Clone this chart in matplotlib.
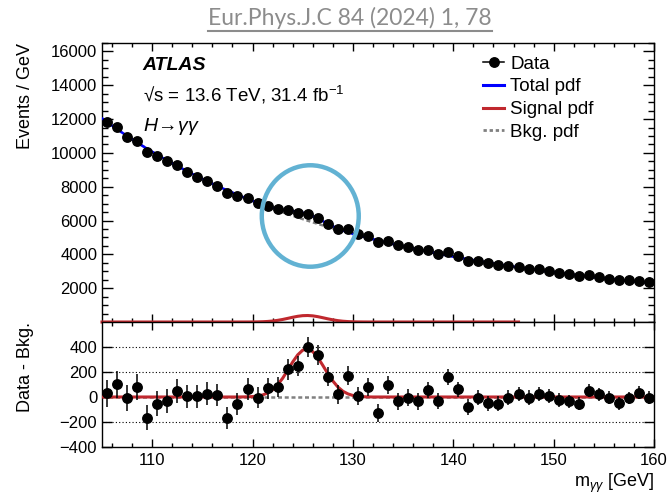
import matplotlib

matplotlib.use("Agg")
import matplotlib.pyplot as plt
import numpy as np
from matplotlib.lines import Line2D
from matplotlib.patches import Ellipse
from matplotlib.ticker import MultipleLocator

plt.rcParams["font.family"] = ["Liberation Sans", "DejaVu Sans"]
plt.rcParams["mathtext.fontset"] = "custom"
plt.rcParams["mathtext.rm"] = "Liberation Sans"
plt.rcParams["mathtext.it"] = "Liberation Sans:italic"

# Data: 1 GeV bins from 105 to 160 GeV
bin_centers = np.arange(105.5, 160.0, 1.0)
data_events = [
    11850, 11520, 10970, 10710, 10080, 9820, 9530, 9290, 8900, 8600,
    8340, 8050, 7610, 7450, 7360, 7060, 6880, 6680, 6600, 6470,
    6410, 6150, 5820, 5480, 5480, 5200, 5070, 4735, 4800, 4540,
    4420, 4280, 4260, 4050, 4120, 3905, 3630, 3630, 3470, 3370,
    3330, 3270, 3140, 3120, 3000, 2880, 2820, 2700, 2760, 2640,
    2560, 2470, 2470, 2430, 2350,
]
data_minus_bkg = [
    30, 100, -5, 80, -165, -55, -35, 45, 5, 5,
    25, 15, -165, -55, 65, -5, 70, 80, 220, 250,
    400, 335, 160, 20, 170, 10, 80, -130, 95, -35,
    -5, -35, 55, -30, 160, 60, -80, -5, -50, -55,
    -5, 25, -5, 25, 5, -25, -35, -55, 50, 20,
    -5, -50, -10, 35, -5,
]
data_err = [
    108, 106, 104, 103, 101, 99, 97, 96, 94, 93,
    91, 90, 88, 87, 86, 85, 83, 82, 81, 80,
    79, 78, 76, 75, 74, 73, 72, 71, 70, 69,
    68, 67, 66, 65, 64, 63, 62, 61, 60, 60,
    59, 58, 57, 56, 56, 55, 54, 53, 53, 52,
    51, 51, 50, 49, 49,
]

pdf_mass = np.arange(105.0, 160.01, 0.5)
bkg_pdf = [
    12043, 11826, 11614, 11406, 11203, 11004, 10809, 10618, 10431, 10248,
    10069, 9893, 9721, 9553, 9388, 9226, 9068, 8913, 8761, 8612,
    8466, 8323, 8183, 8045, 7911, 7779, 7650, 7523, 7399, 7277,
    7158, 7040, 6926, 6814, 6704, 6596, 6490, 6386, 6284, 6184,
    6086, 5990, 5896, 5803, 5713, 5624, 5537, 5451, 5367, 5285,
    5204, 5125, 5047, 4970, 4896, 4822, 4750, 4679, 4610, 4541,
    4474, 4409, 4344, 4281, 4219, 4158, 4098, 4039, 3981, 3925,
    3869, 3814, 3761, 3708, 3656, 3605, 3555, 3506, 3458, 3411,
    3364, 3318, 3273, 3229, 3186, 3143, 3102, 3061, 3020, 2980,
    2941, 2903, 2865, 2828, 2792, 2756, 2721, 2686, 2653, 2619,
    2586, 2554, 2522, 2491, 2460, 2430, 2401, 2372, 2343, 2315,
    2287,
]
# signal pdf is non-zero only between 118 and 133 GeV
signal_start = 118.0
signal_pdf_peak = [
    0, 0, 0.5, 1.3, 3.3, 7.6, 16, 32, 58, 98,
    150, 214, 280, 337, 375, 384, 363, 316, 253, 187,
    128, 80, 46, 25, 12, 5.5, 2.3, 0.9, 0, 0,
    0,
]
signal_top_end = 146.5  # signal curve in the upper pad stops here

bkg = np.array(bkg_pdf, dtype=float)
sig = np.zeros_like(bkg)
i0 = int(round((signal_start - pdf_mass[0]) / 0.5))
sig[i0:i0 + len(signal_pdf_peak)] = signal_pdf_peak
total = bkg + sig

BLUE = "#0000ff"
RED = "#c0282e"
GRAY = "#808080"

fig = plt.figure(figsize=(6.71, 4.95), dpi=100)
ax1 = fig.add_axes([0.152, 0.3495, 0.8227, 0.5636])
ax2 = fig.add_axes([0.152, 0.097, 0.8227, 0.2525], sharex=ax1)

# upper pad
ax1.plot(pdf_mass, bkg, color=GRAY, lw=1.8, dashes=(1.6, 1.1), zorder=2)
ax1.plot(pdf_mass, total, color=BLUE, lw=1.8, zorder=3)
top = pdf_mass <= signal_top_end
ax1.plot(pdf_mass[top], sig[top], color=RED, lw=2.2, zorder=3, clip_on=False)
ax1.errorbar(bin_centers, data_events, yerr=data_err, fmt="o", color="k",
             ms=6.8, elinewidth=1.1, capsize=0, zorder=4)
ax1.set_xlim(105, 160)
ax1.set_ylim(0, 16500)
ax1.yaxis.set_minor_locator(MultipleLocator(500))
ax1.set_yticks([2000, 4000, 6000, 8000, 10000, 12000, 14000, 16000])
ax1.set_ylabel("Events / GeV", fontsize=13, loc="top")
ax1.yaxis.set_label_coords(-0.124, 1.0)
plt.setp(ax1.get_xticklabels(), visible=False)

ax1.text(0.074, 0.918, "ATLAS", transform=ax1.transAxes, fontsize=14,
         fontweight="bold", fontstyle="italic", va="center")
ax1.text(0.074, 0.815, "\u221As = 13.6 TeV, 31.4 fb$^{-1}$", transform=ax1.transAxes,
         fontsize=13.5, va="center")
ax1.text(0.074, 0.70, r"$H\!\rightarrow\!\gamma\gamma$", transform=ax1.transAxes,
         fontsize=14, va="center")

handles = [
    Line2D([], [], color="k", marker="o", ms=6.8, lw=1.1),
    Line2D([], [], color=BLUE, lw=2.2),
    Line2D([], [], color=RED, lw=2.2),
    Line2D([], [], color=GRAY, lw=2.0, dashes=(1.2, 1.0)),
]
ax1.legend(handles, ["Data", "Total pdf", "Signal pdf", "Bkg. pdf"],
           loc="upper left", bbox_to_anchor=(0.69, 0.955), frameon=False,
           fontsize=13.5, borderpad=0, borderaxespad=0, handlelength=1.15,
           handletextpad=0.3, labelspacing=0.3)

ax1.add_patch(Ellipse((125.75, 6270), width=9.66, height=6000, fill=False,
                      edgecolor="#62b2d3", lw=3.2, zorder=10, clip_on=False))

# lower pad
for yv in (-200, 200, 400):
    ax2.axhline(yv, color="k", lw=0.8, ls=(0, (1, 2)), zorder=1)
ax2.plot(pdf_mass, np.zeros_like(pdf_mass), color=GRAY, lw=1.8, dashes=(1.6, 1.1), zorder=2)
ax2.plot(pdf_mass, sig, color=RED, lw=2.2, zorder=3)
ax2.errorbar(bin_centers, data_minus_bkg, yerr=data_err, fmt="o", color="k",
             ms=6.8, elinewidth=1.1, capsize=0, zorder=4, clip_on=False)
ax2.set_ylim(-400, 600)
ax2.set_yticks([-400, -200, 0, 200, 400])
ax2.xaxis.set_major_locator(MultipleLocator(10))
ax2.xaxis.set_minor_locator(MultipleLocator(2))
ax2.set_ylabel("Data - Bkg.", fontsize=13, loc="top")
ax2.yaxis.set_label_coords(-0.124, 1.0)
ax2.set_xlabel("m$_{\\gamma\\gamma}$ [GeV]", fontsize=13, loc="right")
ax2.xaxis.set_label_coords(1.0, -0.2)

for ax in (ax1, ax2):
    ax.tick_params(which="both", direction="in", top=True, right=True,
                   labelsize=12, width=1.0)
    ax.tick_params(axis="y", which="major", length=8, pad=3.5)
    ax.tick_params(axis="y", which="minor", length=4.5)
    ax.tick_params(axis="x", which="major", length=6, pad=4)
    ax.tick_params(axis="x", which="minor", length=3)
    for s in ax.spines.values():
        s.set_linewidth(1.0)
ax2.tick_params(axis="y", which="major", length=7)

# journal reference with underline
title = fig.text(0.522, 0.963, "Eur.Phys.J.C 84 (2024) 1, 78", ha="center",
                 va="center", fontsize=16.5, color="#8c8c8c", family="Lato")
fig.canvas.draw()
bb = title.get_window_extent()
W, H = fig.bbox.width, fig.bbox.height
fig.add_artist(Line2D([bb.x0 / W, bb.x1 / W], [(bb.y0 - 2) / H] * 2,
                      transform=fig.transFigure, color="#8c8c8c", lw=1.5))

fig.savefig("out.png", dpi=100)
